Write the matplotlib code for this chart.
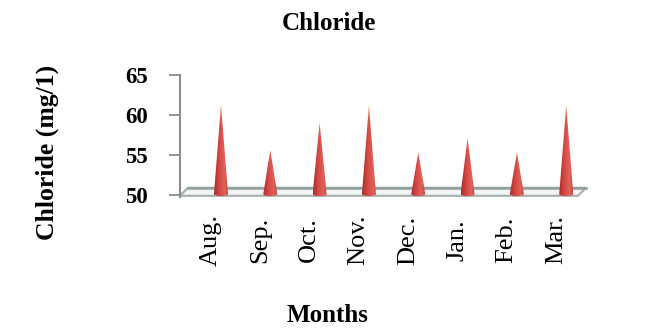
import numpy as np
import matplotlib.pyplot as plt
from matplotlib.patches import Polygon
from matplotlib.colors import LinearSegmentedColormap
import matplotlib.transforms as mtransforms

months = ["Aug.", "Sep.", "Oct.", "Nov.", "Dec.", "Jan.", "Feb.", "Mar."]
chloride = [61.2, 55.5, 58.9, 61.1, 55.2, 57.0, 55.2, 61.1]
yticks = [50, 55, 60, 65]

plt.rcParams["font.family"] = ["Liberation Serif", "DejaVu Serif"]

W, H = 652, 335
fig = plt.figure(figsize=(W / 100, H / 100), dpi=100)

# plot box (front plane), in pixels from the top-left corner
left, right, top, bottom = 180, 578, 75, 197
ax = fig.add_axes([left / W, 1 - bottom / H, (right - left) / W, (bottom - top) / H])
ax.set_xlim(-0.75, 7.32)
ax.set_ylim(49.75, 65)

# pixel -> data unit conversion for the fake depth
px_x = (ax.get_xlim()[1] - ax.get_xlim()[0]) / (right - left)
px_y = (ax.get_ylim()[1] - ax.get_ylim()[0]) / (bottom - top)
depth = 8  # px

# floor plate
x0, x1 = ax.get_xlim()
yf = 49.9
floor = Polygon([(x0, yf), (x1, yf),
                 (x1 + depth * px_x, yf + depth * px_y),
                 (x0 + depth * px_x, yf + depth * px_y)],
                closed=True, facecolor="#f4f6f6", edgecolor="#a9b1b1",
                lw=1.6, clip_on=False, zorder=1)
ax.add_patch(floor)
ax.plot([x0 + depth * px_x, x1 + depth * px_x], [yf + depth * px_y] * 2,
        color="#8fa09c", lw=1.8, clip_on=False, zorder=1.5)

# cones: shaded across the width, a touch of orange toward the tip
cone_cmap = LinearSegmentedColormap.from_list(
    "cone", ["#a52c2c", "#c83e3a", "#d9504c", "#e0625a", "#c94a3e"])
nx, ny = 48, 60
gx = np.linspace(0, 1, nx)
gy = np.linspace(0, 1, ny)[:, None]
rgb = cone_cmap(np.tile(gx, (ny, 1)))
tip_tint = np.array([0.93, 0.62, 0.35, 1.0])
w = np.clip((gy - 0.75) / 0.25, 0, 1)[..., None] * 0.5
rgb = rgb * (1 - w) + tip_tint * w

hw = 7 * px_x
ell = 2.0 * px_y
lift = (depth / 2 - 3) * px_y
for i, v in enumerate(chloride):
    cx = i + (depth / 2) * px_x
    base = 50 + lift
    tip = v + lift
    t = np.linspace(0, np.pi, 20)
    arc = [(cx + hw * np.cos(a), base - ell * np.sin(a)) for a in t]
    cone = Polygon([(cx, tip)] + arc, closed=True,
                   facecolor="none", edgecolor="none", clip_on=False)
    ax.add_patch(cone)
    img = ax.imshow(rgb, aspect="auto", origin="lower",
                    extent=[cx - hw, cx + hw, base - ell, tip], zorder=3)
    img.set_clip_path(cone)

ax.set_xlim(x0, x1)
ax.set_ylim(49.75, 65)

# axis styling
for s in ["top", "right", "bottom"]:
    ax.spines[s].set_visible(False)
ax.spines["left"].set_color("#8c8c8c")
ax.spines["left"].set_linewidth(1.5)
ax.set_xticks([])
ax.set_yticks(yticks)
ax.set_yticklabels([str(t) for t in yticks], fontsize=16.5, fontweight="bold")
ax.tick_params(axis="y", direction="out", length=8, width=1.3,
               color="#8c8c8c", pad=15)

# month labels, rotated
lab_tr = mtransforms.blended_transform_factory(ax.transData, fig.transFigure)
for i, m in enumerate(months):
    ax.text(i - 0.13, 1 - 240 / H, m, rotation=90, fontsize=19,
            ha="center", va="center", transform=lab_tr)

fig.text(329 / W, 1 - 24 / H, "Chloride", fontsize=18, fontweight="bold",
         ha="center", va="center")
fig.text(328 / W, 1 - 316 / H, "Months", fontsize=18, fontweight="bold",
         ha="center", va="center")
fig.text(47 / W, 1 - 152 / H, "Chloride (mg/1)", fontsize=18.5,
         fontweight="bold", rotation=90, ha="center", va="center")

fig.savefig("out.png", dpi=100)
